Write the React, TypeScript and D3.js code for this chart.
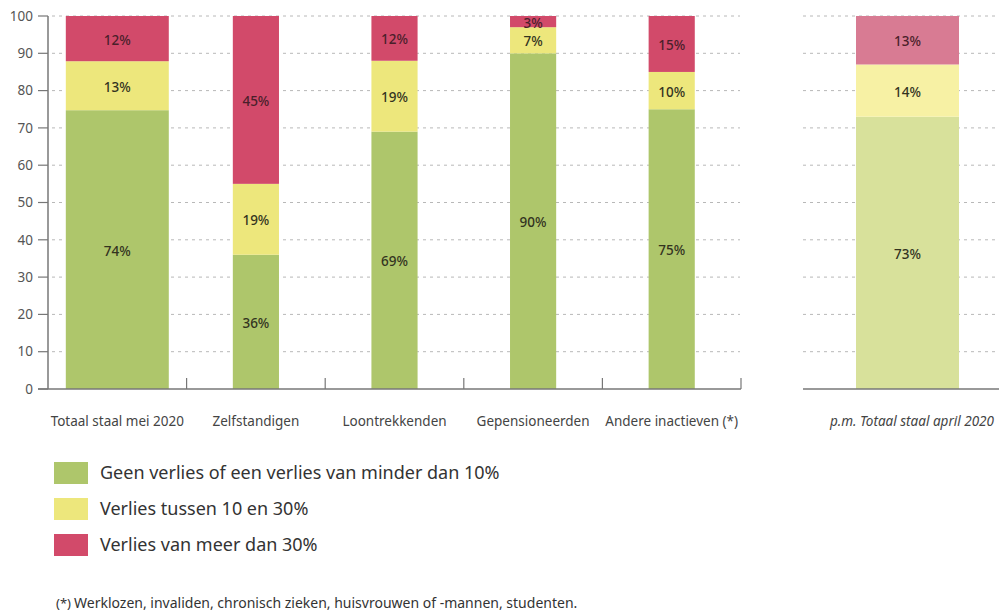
import React from "react";
import * as d3 from "d3";

const categories = ["Totaal staal mei 2020", "Zelfstandigen", "Loontrekkenden", "Gepensioneerden", "Andere inactieven (*)"];
const geenVerlies = [74, 36, 69, 90, 75];
const verlies10tot30 = [13, 19, 19, 7, 10];
const verliesMeer30 = [12, 45, 12, 3, 15];

const aprilCategory = ["p.m. Totaal staal april 2020"];
const aprilGeen = [73];
const aprilMidden = [14];
const aprilMeer = [13];

const seriesNames = [
  "Geen verlies of een verlies van minder dan 10%",
  "Verlies tussen 10 en 30%",
  "Verlies van meer dan 30%",
];
const yTicks = [0, 10, 20, 30, 40, 50, 60, 70, 80, 90, 100];
const footnoteMark = "(*)";
const footnote = "Werklozen, invaliden, chronisch zieken, huisvrouwen of -mannen, studenten.";

const colors = ["#aec66b", "#ede77c", "#d24a6a"];
const lightColors = ["#d8e19b", "#f7f1a4", "#d87b93"];
const FONT = "'Noto Sans', 'Open Sans', sans-serif";

type Row = { name: string; v: number[] };

export default function App() {
  const W = 999, H = 615;
  const y = d3.scaleLinear().domain([0, 100]).range([389, 16]);
  const x1 = d3.scaleBand<string>().domain(categories).range([48, 741]);
  const x2 = d3.scaleBand<string>().domain(aprilCategory).range([803, 1012]);

  const rows1: Row[] = categories.map((c, i) => ({ name: c, v: [geenVerlies[i], verlies10tot30[i], verliesMeer30[i]] }));
  const rows2: Row[] = aprilCategory.map((c, i) => ({ name: c, v: [aprilGeen[i], aprilMidden[i], aprilMeer[i]] }));

  const stackRow = (r: Row) => {
    const total = d3.sum(r.v);
    let acc = 0;
    return r.v.map((val, k) => {
      const h = (val / total) * 100;
      const seg = { k, val, y0: acc, y1: acc + h };
      acc += h;
      return seg;
    });
  };

  const drawBars = (rows: Row[], xs: d3.ScaleBand<string>, widthOf: (i: number) => number, pal: string[]) =>
    rows.map((r, i) => {
      const bw = widthOf(i);
      const cx = (xs(r.name) as number) + xs.bandwidth() / 2;
      return (
        <g key={r.name}>
          {stackRow(r).map((s) => (
            <g key={s.k}>
              <rect x={cx - bw / 2} width={bw} y={y(s.y1)} height={y(s.y0) - y(s.y1)} fill={pal[s.k]} />
              <text
                x={cx}
                y={y((s.y0 + s.y1) / 2)}
                dy="0.45em"
                textAnchor="middle"
                fontSize={13.5}
                fontWeight={500}
                fill={s.k === 2 ? "#4a1f2a" : "#33331f"}
              >
                {s.val}%
              </text>
            </g>
          ))}
        </g>
      );
    });

  const grid = (xa: number, xb: number) =>
    yTicks.filter((t) => t > 0).map((t) => (
      <line key={t} x1={xa} x2={xb} y1={y(t)} y2={y(t)} stroke="#b8b8b8" strokeWidth={1} strokeDasharray="3,4" />
    ));

  const sepPositions = categories.slice(1).map((c) => x1(c) as number).concat([x1.range()[1]]);

  return (
    <div style={{ position: "absolute", left: 0, top: 0 }}>
      <svg width={W} height={H} style={{ display: "block", fontFamily: FONT }}>
        <rect width={W} height={H} fill="#ffffff" />
        {grid(52, 740)}
        {grid(803, 999)}
        {/* y axis */}
        <line x1={48} x2={48} y1={y(100)} y2={y(0)} stroke="#777" strokeWidth={1.5} />
        {yTicks.map((t) => (
          <g key={t}>
            <line x1={38} x2={48} y1={y(t)} y2={y(t)} stroke="#777" strokeWidth={1.2} />
            <text x={33} y={y(t)} dy="0.35em" textAnchor="end" fontSize={13.5} fill="#555">
              {t}
            </text>
          </g>
        ))}
        {drawBars(rows1, x1, (i) => x1.bandwidth() * (i === 0 ? 0.743 : 0.333), colors)}
        {drawBars(rows2, x2, () => 103, lightColors)}
        {/* x axes */}
        <line x1={38} x2={741} y1={y(0)} y2={y(0)} stroke="#777" strokeWidth={1.5} />
        {sepPositions.map((p, i) => (
          <line key={i} x1={p} x2={p} y1={y(0)} y2={y(0) - 11} stroke="#777" strokeWidth={1.2} />
        ))}
        <line x1={803} x2={999} y1={y(0)} y2={y(0)} stroke="#777" strokeWidth={1.5} />
        {categories.map((c) => (
          <text key={c} x={(x1(c) as number) + x1.bandwidth() / 2} y={426} textAnchor="middle" fontSize={13.5} fill="#444">
            {c}
          </text>
        ))}
        {aprilCategory.map((c) => (
          <text key={c} x={(x2(c) as number) + 109} y={426} textAnchor="middle" fontSize={13.5} fill="#444" fontStyle="italic">
            {c}
          </text>
        ))}
        {/* legend */}
        {seriesNames.map((s, i) => (
          <g key={s} transform={`translate(54, ${462 + i * 36})`}>
            <rect width={34} height={22} fill={colors[i]} />
            <text x={46} y={11} dy="0.35em" fontSize={18} fill="#333">
              {s}
            </text>
          </g>
        ))}
        <text x={56} y={608} fontSize={13} fill="#333">
          {footnoteMark}
        </text>
        <text x={74} y={608} fontSize={14} fill="#333">
          {footnote}
        </text>
      </svg>
    </div>
  );
}
